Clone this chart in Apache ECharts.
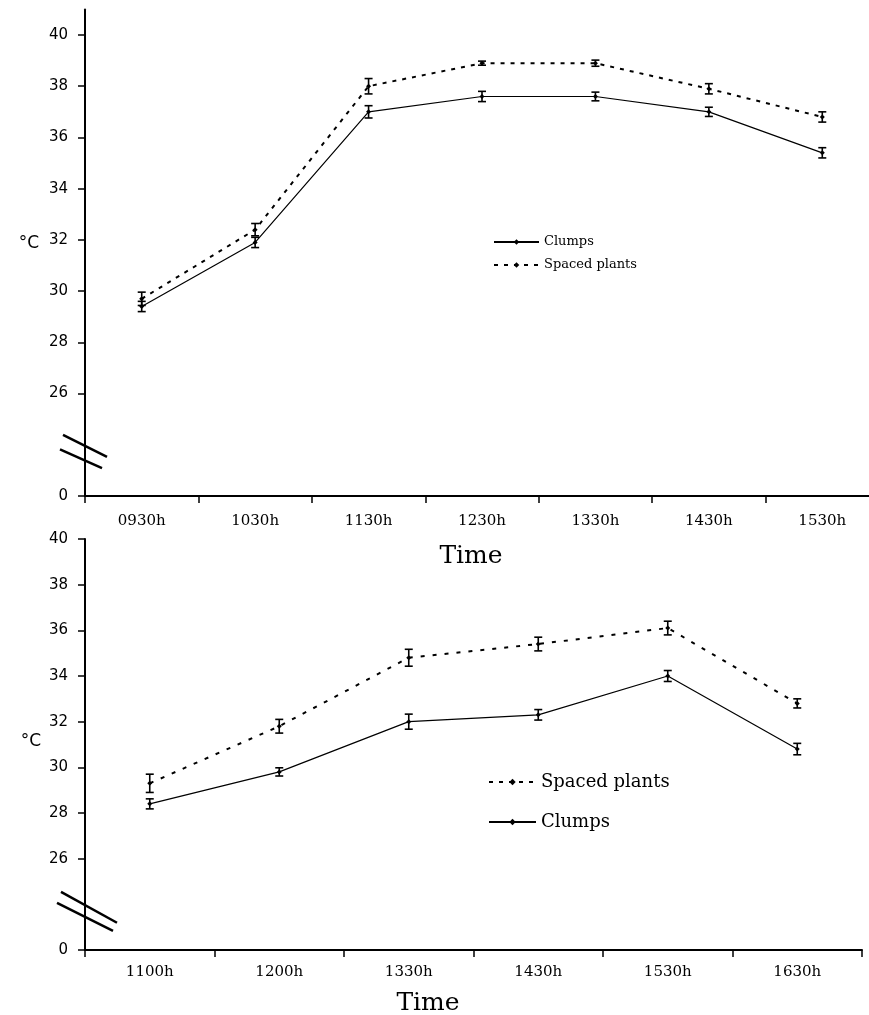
<!DOCTYPE html>
<html>
<head>
<meta charset="utf-8">
<script src="https://cdn.jsdelivr.net/npm/echarts@6/dist/echarts.min.js"></script>
<style>
html,body{margin:0;padding:0;background:#fff;overflow:hidden;}
#chart{width:869px;height:1015px;}
</style>
</head>
<body>
<div id="chart"></div>
<script>
// ---- data ----
const topCategories = ['0930h','1030h','1130h','1230h','1330h','1430h','1530h'];
const topClumps      = [29.4, 31.9, 37.0, 37.6, 37.6, 37.0, 35.4];
const topClumpsErr   = [0.20, 0.20, 0.24, 0.20, 0.17, 0.18, 0.20];
const topSpaced      = [29.7, 32.4, 38.0, 38.9, 38.9, 37.9, 36.8];
const topSpacedErr   = [0.26, 0.24, 0.30, 0.08, 0.12, 0.20, 0.20];

const botCategories = ['1100h','1200h','1330h','1430h','1530h','1630h'];
const botSpaced      = [29.3, 31.8, 34.8, 35.4, 36.1, 32.8];
const botSpacedErr   = [0.40, 0.30, 0.37, 0.30, 0.30, 0.20];
const botClumps      = [28.4, 29.8, 32.0, 32.3, 34.0, 30.8];
const botClumpsErr   = [0.22, 0.18, 0.33, 0.23, 0.24, 0.25];

// broken axis: value 22 is drawn as "0"; 24 is the break
const yTickValues = [22, 26, 28, 30, 32, 34, 36, 38, 40];
const yTickLabels = ['0', '26', '28', '30', '32', '34', '36', '38', '40'];
const breakValue = 24;

// ---- chart ----
const chart = echarts.init(document.getElementById('chart'));
const BLACK = '#000';
const SERIF = 'DejaVu Serif';

function yAxisCfg(gridIndex, max) {
  return {
    type: 'value', gridIndex: gridIndex, min: 22, max: max, interval: 2,
    splitLine: {show: false},
    axisLine: {show: true, lineStyle: {color: BLACK, width: 2}},
    axisTick: {show: true, length: 7, lineStyle: {color: BLACK, width: 1.5}, customValues: yTickValues},
    axisLabel: {
      color: BLACK, fontFamily: 'DejaVu Sans', fontSize: 15, margin: 17,
      customValues: yTickValues,
      formatter: function (v) { const i = yTickValues.indexOf(v); return i >= 0 ? yTickLabels[i] : ''; }
    }
  };
}
function xAxisCfg(gridIndex, cats, margin) {
  return {
    type: 'category', gridIndex: gridIndex, data: cats, boundaryGap: true,
    axisLine: {show: true, lineStyle: {color: BLACK, width: 2}},
    axisTick: {show: true, length: 7, lineStyle: {color: BLACK, width: 1.5}},
    axisLabel: {color: BLACK, fontFamily: SERIF, fontSize: 15, margin: margin},
    splitLine: {show: false}
  };
}
function lineSeries(name, data, xi, dashed, dash) {
  return {
    type: 'line', name: name, data: data, xAxisIndex: xi, yAxisIndex: xi,
    symbol: 'diamond', symbolSize: 5, showSymbol: true,
    itemStyle: {color: BLACK},
    lineStyle: {color: BLACK, width: dashed ? 2 : 1.2, type: dashed ? dash : 'solid'},
    z: 3
  };
}
function errSeries(vals, errs, xi) {
  return {
    type: 'custom', xAxisIndex: xi, yAxisIndex: xi, silent: true, z: 4,
    data: vals.map(function (v, i) { return [i, v - errs[i], v + errs[i]]; }),
    renderItem: function (params, api) {
      const lo = api.coord([api.value(0), api.value(1)]);
      const hi = api.coord([api.value(0), api.value(2)]);
      const w = 4;
      const st = {stroke: BLACK, lineWidth: 1.6, fill: null};
      return {type: 'group', children: [
        {type: 'line', shape: {x1: lo[0], y1: lo[1], x2: hi[0], y2: hi[1]}, style: st},
        {type: 'line', shape: {x1: lo[0]-w, y1: lo[1], x2: lo[0]+w, y2: lo[1]}, style: st},
        {type: 'line', shape: {x1: hi[0]-w, y1: hi[1], x2: hi[0]+w, y2: hi[1]}, style: st}
      ]};
    }
  };
}

const option = {
  animation: false,
  backgroundColor: '#fff',
  grid: [
    {left: 85, top: 9.4, width: 794, height: 486.6, outerBoundsMode: 'none', containLabel: false},
    {left: 85, top: 539, width: 777, height: 411, outerBoundsMode: 'none', containLabel: false}
  ],
  xAxis: [xAxisCfg(0, topCategories, 18), xAxisCfg(1, botCategories, 15)],
  yAxis: [yAxisCfg(0, 41), yAxisCfg(1, 40)],
  legend: [
    {
      orient: 'vertical', left: 488, top: 230, itemWidth: 45, itemHeight: 7, itemGap: 9,
      data: ['Clumps', 'Spaced plants'],
      textStyle: {color: BLACK, fontFamily: SERIF, fontSize: 13, lineHeight: 14}
    },
    {
      orient: 'vertical', left: 483, top: 766, itemWidth: 47, itemHeight: 8, itemGap: 18,
      data: ['Spaced plants', 'Clumps'],
      textStyle: {color: BLACK, fontFamily: SERIF, fontSize: 18, lineHeight: 22}
    }
  ],
  series: [
    lineSeries('Clumps', topClumps, 0, false),
    lineSeries('Spaced plants', topSpaced, 0, true, [4, 6]),
    errSeries(topClumps, topClumpsErr, 0),
    errSeries(topSpaced, topSpacedErr, 0),
    lineSeries('Spaced plants', botSpaced, 1, true, [4, 8]),
    lineSeries('Clumps', botClumps, 1, false),
    errSeries(botSpaced, botSpacedErr, 1),
    errSeries(botClumps, botClumpsErr, 1)
  ]
};
chart.setOption(option);

// axis-break marks and free text, placed from the axes
const yb0 = chart.convertToPixel({yAxisIndex: 0}, breakValue);
const yb1 = chart.convertToPixel({yAxisIndex: 1}, breakValue);
const ax0 = 85, ax1 = 85;
function seg(cx, cy, half, slope) {
  return {type: 'line', shape: {x1: cx - half, y1: cy - half * slope, x2: cx + half, y2: cy + half * slope},
          style: {stroke: BLACK, lineWidth: 2.5}, z: 10};
}
const txt = function (x, y, t, font, size) {
  return {type: 'text', x: x, y: y, style: {text: t, fill: BLACK, font: size + 'px "' + font + '"', textAlign: 'center', textVerticalAlign: 'middle'}, z: 10};
};
chart.setOption({
  graphic: [
    seg(ax0, yb0 + 1, 22, 0.5),
    seg(ax0 - 4, yb0 + 14, 21, 0.45),
    seg(ax1 + 4, yb1 + 3, 28, 0.55),
    seg(ax1, yb1 + 12.5, 28, 0.5),
    txt(29, 244, '°C', 'DejaVu Sans', 17),
    txt(31, 742, '°C', 'DejaVu Sans', 17),
    txt(471, 556, 'Time', SERIF, 25),
    txt(428, 1003, 'Time', SERIF, 25)
  ]
});
</script>
</body>
</html>
